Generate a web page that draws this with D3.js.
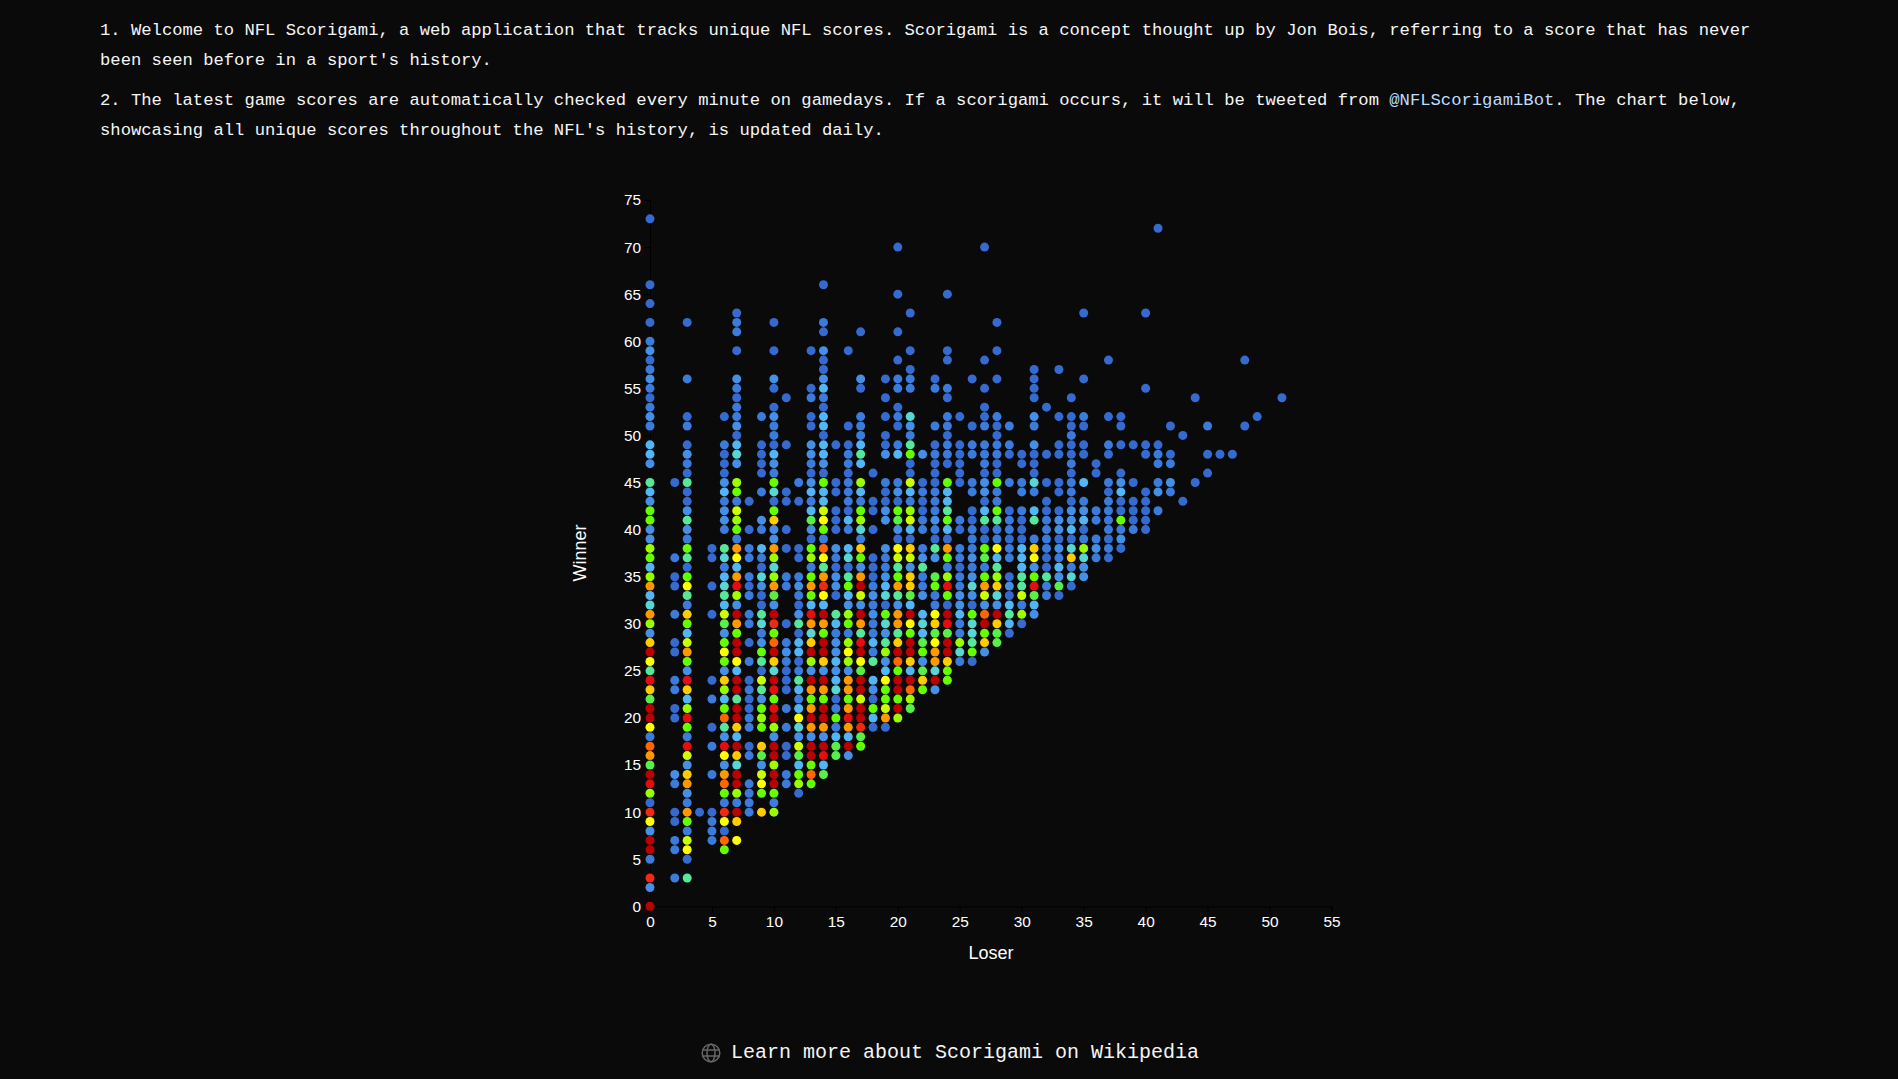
<!DOCTYPE html>
<html><head><meta charset="utf-8">
<script src="https://cdn.jsdelivr.net/npm/d3@7"></script>
<style>
html,body{margin:0;padding:0;background:#0a0a0a;width:1898px;height:1079px;overflow:hidden}
.t{position:absolute;left:100px;white-space:nowrap;font:17.21px/29px "Liberation Mono",monospace;color:#f5f5f5}
.t a{color:#bfdbfe;text-decoration:none}
#link{position:absolute;left:731px;top:1038px;white-space:nowrap;font:20px/30px "Liberation Mono",monospace;color:#f5f5f5}
#globe{position:absolute;left:701px;top:1043px}
svg#chart{position:absolute;left:0;top:0}
</style></head><body>
<div class="t" style="top:16px">1. Welcome to NFL Scorigami, a web application that tracks unique NFL scores. Scorigami is a concept thought up by Jon Bois, referring to a score that has never</div>
<div class="t" style="top:46px">been seen before in a sport's history.</div>
<div class="t" style="top:86px">2. The latest game scores are automatically checked every minute on gamedays. If a scorigami occurs, it will be tweeted from <a>@NFLScorigamiBot</a>. The chart below,</div>
<div class="t" style="top:116px">showcasing all unique scores throughout the NFL's history, is updated daily.</div>
<svg id="chart" width="1898" height="1079"></svg>
<svg id="globe" width="20" height="20" viewBox="0 0 20 20" fill="none" stroke="#666" stroke-width="1.5"><circle cx="10" cy="10" r="8.8"/><ellipse cx="10" cy="10" rx="4" ry="8.8"/><path d="M1.6 7h16.8M1.6 13h16.8"/></svg>
<div id="link">Learn more about Scorigami on Wikipedia</div>
<script>
// Each entry: winner score + colour bucket letter (a = rarest score ... q = most frequent)
const loser0  = "73a 66a 64a 62a 60b 59c 58a 57b 56c 55b 54a 53b 52c 51b 49d 48d 47c 45f 44d 43c 42h 41h 40c 39c 38i 37h 36d 35i 34m 33d 32e 31m 30i 29c 28l 27q 26k 25f 24p 23l 22g 21q 20q 19k 18b 17n 16m 15g 14q 13p 12i 11a 10o 9k 8c 7q 6q 5b 3o 2c 0q";
const loser2  = "45a 37b 35a 34a 31b 28a 27a 24b 23b 21a 20a 14c 13b 10a 9a 7b 6b 3b";
const loser3  = "62a 56b 52a 51b 49a 48c 47b 46a 45f 44a 43a 42c 41f 40c 39b 38h 37f 36a 35h 34k 33f 32b 31l 30h 29d 28j 27m 26h 25c 24p 23l 22d 21i 20p 19h 18b 17p 16j 15c 14l 13m 12c 11b 10m 9h 8b 7j 6k 5a 3f";
const loser4  = "10a";
const loser5  = "38a 37a 34a 31a 24a 22b 19a 17b 14b 10a 9b 8b 7b";
const loser6  = "52a 49b 48a 47a 46a 45c 44d 43b 42c 41c 40b 38f 37e 36b 35d 34e 33f 32d 31j 30g 29c 28h 27k 26h 25c 24l 23i 22d 21h 20n 19f 18c 17p 16k 15c 14m 13n 12h 11b 10o 9k 8a 7n 6h";
const loser7  = "63a 62b 61b 59a 56c 55b 54a 53b 52b 51c 50a 49d 48e 47c 45i 44h 43b 42j 41i 40h 39b 38m 37k 36d 35m 34p 33i 32c 31q 30m 29h 28q 27q 26k 25d 24q 23q 22f 21q 20q 19l 18d 17q 16l 15e 14q 13q 12i 11b 10q 9l 7k";
const loser8  = "43a 40a 38b 37b 35b 34a 33b 31b 30b 28a 26b 24a 23b 22a 21a 20b 19b 17a 16b 13b 12b 11b 10b";
const loser9  = "52b 49a 48a 47a 46a 44b 41c 40b 38d 37b 36a 35e 34c 33a 32a 31f 30e 29b 28c 27h 26f 25a 24j 23f 22c 21h 20i 19h 17l 16g 15c 14j 13k 12h 10l";
const loser10 = "62a 59a 56c 55a 53a 52c 51b 50b 49a 48d 47c 46b 45h 44e 43a 42h 41l 40c 39c 38m 37i 36e 35i 34m 33g 32c 31q 30o 29h 28n 27q 26l 25e 24q 23p 22h 21p 20q 19i 18c 17q 16q 15i 14q 13q 12h 11b 10i";
const loser11 = "54a 49a 44a 43a 40a 38a 35b 34b 30a 28b 27c 26b 25a 24a 23a 21b 19b 17a 16a 14b 13b";
const loser12 = "45b 43a 38a 37a 35b 34c 33b 32a 31c 30f 29a 28d 27d 26a 25b 24f 23d 22b 21d 20k 19e 18c 17j 16g 15d 14h 13i 12a";
const loser13 = "59a 55a 54b 52a 51a 49c 48c 47b 46a 45c 44d 43b 42d 41g 40c 39a 38h 37i 36b 35h 34m 33h 32d 31p 30m 29e 28l 27q 26i 25c 24q 23m 22h 21m 20q 19m 18c 17q 16q 15h 14n 13h";
const loser14 = "66a 62b 61a 59c 58a 57a 56c 55d 54b 53a 52d 51d 50a 49d 48d 47c 46a 45h 44d 43d 42j 41k 40h 39b 38n 37k 36f 35m 34o 33k 32d 31q 30m 29h 28q 27q 26l 25c 24q 23m 22h 21q 20q 19m 18c 17q 16p 15d 14g";
const loser15 = "49a 45a 44a 42a 41a 40a 38c 37b 36a 35c 34c 33a 31f 30d 29b 28c 27c 26d 25c 24d 23e 22a 21b 20h 19b 18d 17g 16g";
const loser16 = "59a 51a 49a 48b 47b 46a 45b 44b 43b 42a 41d 40b 38d 37e 36a 35f 34h 33d 32c 31i 30h 29b 28i 27k 26i 25c 24m 23m 22h 21m 20p 19m 18d 17q 16c";
const loser17 = "61a 56c 55a 52b 51b 50b 49d 48f 47d 45i 44d 43b 42h 41i 40e 39b 38l 37h 36c 35m 34q 33j 32c 31q 30m 29f 28p 27q 26k 25g 24q 23q 22j 21q 20q 19o 18g 17h";
const loser18 = "46a 43a 42a 40a 37a 36a 35a 34b 33c 32b 31c 30b 29b 28d 27b 26f 24d 23c 22a 21h 20d 19a";
const loser19 = "56a 54a 52a 50a 49a 48c 45b 44a 43a 42c 41c 38c 37b 36b 35c 34d 33e 32a 31h 30e 29c 28f 27i 26c 25d 24k 23h 22h 21j 20m 19a";
const loser20 = "70a 65a 61a 58a 56b 55b 53a 52b 51a 49b 48d 45b 44c 43a 42h 41g 40c 39a 38k 37j 36f 35h 34m 33f 32c 31m 30m 29f 28l 27q 26n 25h 24q 23q 22h 21q 20i";
const loser21 = "63a 59a 57a 56b 55b 52e 51c 50b 49f 48h 47a 46a 45j 44d 43b 42i 41j 40d 39a 38l 37j 36c 35l 34l 33g 32d 31q 30k 29h 28q 27q 26l 25d 24q 23n 22i 21g";
const loser22 = "48c 45a 44b 43a 42a 41b 40b 38b 37c 36f 35b 34b 33c 31d 30e 29d 28g 27h 26c 25g 24l 23h";
const loser23 = "56a 55b 51b 49a 48b 47a 46a 45a 44b 43b 42b 41c 40b 39a 38f 37c 35g 34h 33b 32b 31k 30l 29g 28k 27m 26m 25e 24q 23c";
const loser24 = "65a 59a 58a 55b 54a 52b 51b 50a 49b 48b 47a 45h 44d 43d 42f 41h 40d 39a 38m 37h 36b 35i 34p 33h 32a 31q 30p 29g 28q 27q 26l 25h 24h";
const loser25 = "52a 49a 48a 47a 46a 45a 41b 40a 38b 37b 36a 35b 34b 33c 32c 31d 30b 29b 28i 27e 26b";
const loser26 = "56a 51a 49b 48b 45b 44b 42a 41a 40b 39b 38b 37c 36b 35c 34e 33c 32a 31h 30e 29e 28f 27h 26a";
const loser27 = "70a 58a 55a 53a 52a 51b 49b 48b 47b 46a 45c 44c 43a 42d 41f 40a 39a 38h 37g 36b 35h 34m 33j 32c 31n 30q 29h 28l 27c";
const loser28 = "62a 59a 56a 52b 51a 50a 49b 48b 47a 46a 45h 44b 43b 42h 41f 40b 39b 38k 37d 36f 35i 34l 33e 32c 31q 30l 29g 28g";
const loser29 = "51b 49b 48a 45b 42a 41b 40b 39a 38b 37b 35a 34c 33a 32d 31f 30d 29a";
const loser30 = "48a 47a 45b 44b 42b 41a 40a 39a 38d 37d 36d 35f 34f 33j 32b 31i 30a";
const loser31 = "57a 56a 55a 54a 52c 51b 49c 48a 47a 46a 45e 44b 42d 41f 39b 38l 37k 36c 35h 34p 33g 32d 31c";
const loser32 = "53a 48a 45a 43a 42a 41b 40b 39b 38b 37a 36a 35f 34b 33b";
const loser33 = "57a 52a 49a 48a 45a 44a 42a 41c 40c 39a 38c 37b 36d 35c 34g 33a";
const loser34 = "54a 52a 51a 50b 49a 48a 47b 46a 45b 44b 43a 42c 41c 40d 39a 38e 37l 36b 35e 34a";
const loser35 = "63a 56a 52b 51a 49a 48a 45d 43b 42c 41d 40a 39b 38i 37e 36c 35c";
const loser36 = "47a 46a 42b 41b 39b 38c 37b";
const loser37 = "58a 52a 49b 48a 45b 44a 43b 42b 41b 40b 39a 38b 37a";
const loser38 = "52a 51a 49a 46a 45c 44d 43a 42a 41h 40b 39c 38a";
const loser39 = "49a 45a 43a 42a 41a 40b";
const loser40 = "63a 55a 49a 48a 44a 43a 42a 41a 40a";
const loser41 = "72a 49a 48b 47b 45b 44c 42b";
const loser42 = "51a 48a 47b 45c 44b";
const loser43 = "50a 43a";
const loser44 = "54a 45a";
const loser45 = "51b 48a 46a";
const loser46 = "48a";
const loser47 = "48a";
const loser48 = "58a 51a";
const loser49 = "52a";
const loser51 = "54a";

const loserScores = [0,2,3,4,5,6,7,8,9,10,11,12,13,14,15,16,17,18,19,20,21,22,23,24,25,26,27,28,29,30,31,32,33,34,35,36,37,38,39,40,41,42,43,44,45,46,47,48,49,51];
const winnerLists = [loser0,loser2,loser3,loser4,loser5,loser6,loser7,loser8,loser9,loser10,loser11,loser12,loser13,loser14,loser15,loser16,loser17,loser18,loser19,loser20,loser21,loser22,loser23,loser24,loser25,loser26,loser27,loser28,loser29,loser30,loser31,loser32,loser33,loser34,loser35,loser36,loser37,loser38,loser39,loser40,loser41,loser42,loser43,loser44,loser45,loser46,loser47,loser48,loser49,loser51];

const bucketKeys   = "abcdefghijklmnopq".split("");
const bucketColors = ["#356bd0","#3b7bdb","#4590e6","#52b6f6","#58d6d6","#55e89a","#58f048","#66ff00","#99ff00","#ccff00","#ffff00","#ffcc00","#ff9900","#ff6600","#f02a10","#e60d0d","#bb0000"];
const xTicks = [0,5,10,15,20,25,30,35,40,45,50,55];
const yTicks = [0,5,10,15,20,25,30,35,40,45,50,55,60,65,70,75];

const points = loserScores.flatMap((loser,i) => winnerLists[i].split(" ").map(tok => ({
  loser, winner:+tok.slice(0,-1), bucket:tok.slice(-1)
})));

const svg = d3.select("#chart");
const x = d3.scaleLinear().domain([0,55]).range([650,1331.5]);
const y = d3.scaleLinear().domain([0,75]).range([906.3,200]);
const color = d3.scaleOrdinal(bucketKeys,bucketColors);

const gx = svg.append("g").attr("transform","translate(0,906.3)").call(d3.axisBottom(x).tickValues(xTicks).tickSize(6).tickPadding(4));
const gy = svg.append("g").attr("transform","translate(650,0)").call(d3.axisLeft(y).tickValues(yTicks).tickSize(6).tickPadding(3));
[gx,gy].forEach(g=>{
  g.selectAll("path,line").attr("stroke","#000");
  g.selectAll("text").attr("fill","#fff").style("font","15.4px 'Liberation Sans',Arial,sans-serif");
});

svg.append("g").selectAll("circle").data(points).join("circle")
  .attr("cx",d=>x(d.loser)).attr("cy",d=>y(d.winner)).attr("r",4.5)
  .attr("fill",d=>color(d.bucket));

svg.append("text").attr("x",991).attr("y",959).attr("text-anchor","middle").attr("fill","#fff")
  .style("font","18px 'Liberation Sans',Arial,sans-serif").text("Loser");
svg.append("text").attr("transform","translate(585.5,553) rotate(-90)").attr("text-anchor","middle").attr("fill","#fff")
  .style("font","18px 'Liberation Sans',Arial,sans-serif").text("Winner");
</script>
</body></html>
